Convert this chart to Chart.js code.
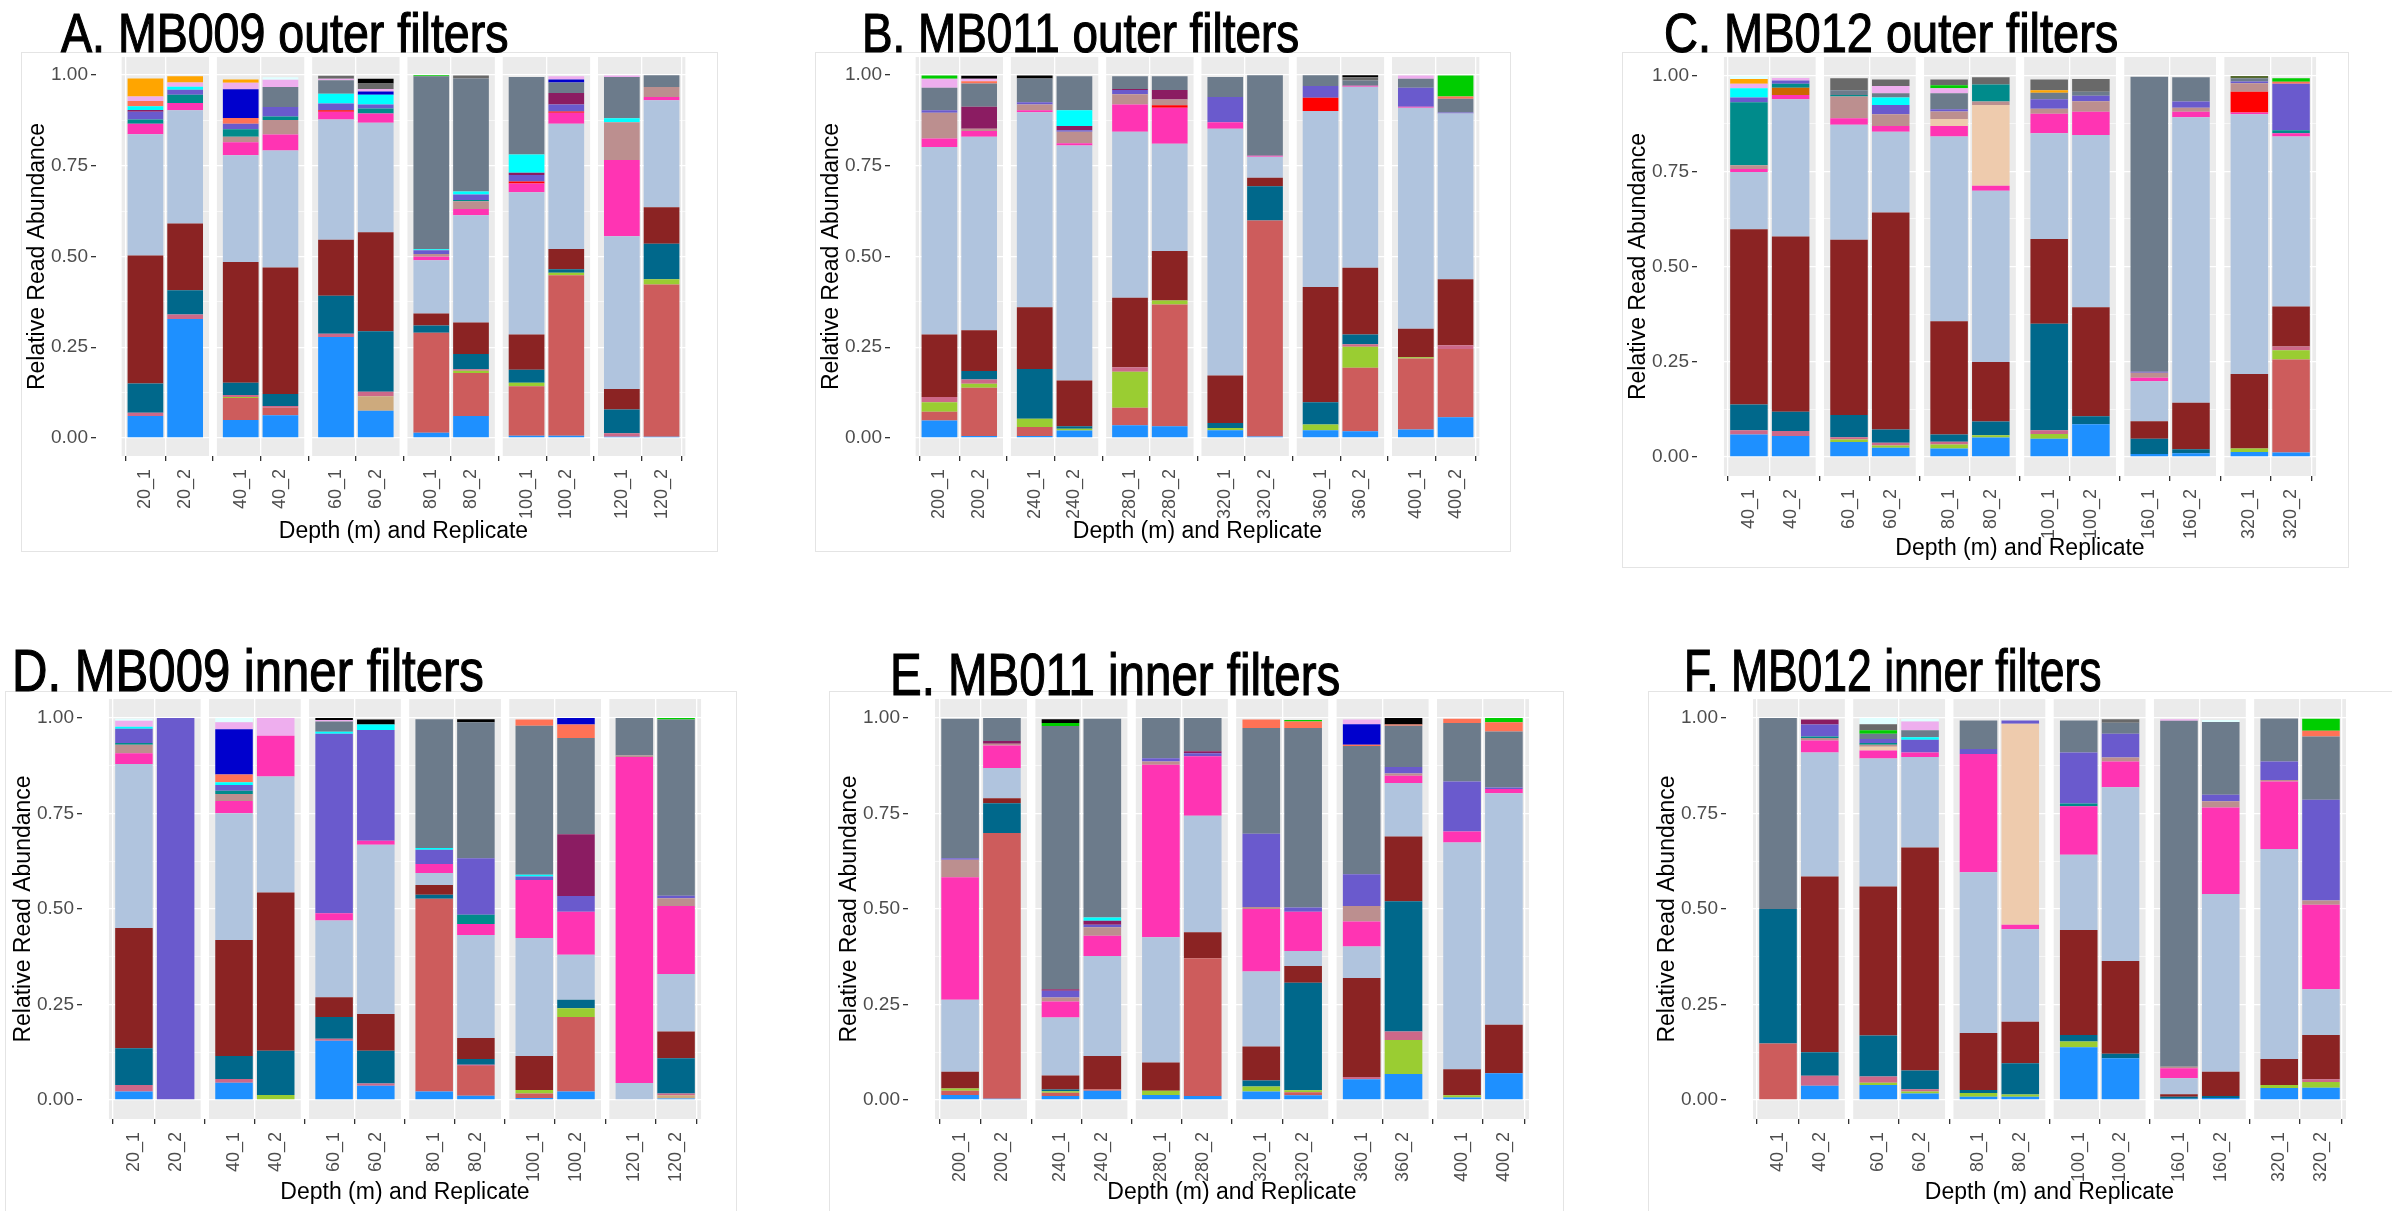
<!DOCTYPE html>
<html>
<head>
<title>Relative read abundance by depth</title>
<script src="https://cdn.jsdelivr.net/npm/chart.js"></script>
<style>
  body { margin: 0; width: 2392px; height: 1211px; background: #ffffff; position: relative; overflow: hidden; }
  canvas { position: absolute; }
  .box { position: absolute; border: 1px solid #e4e4e4; box-sizing: border-box; }
  .ptitle { position: absolute; font-family: "Liberation Sans", Arial, sans-serif;
            color: #000; white-space: nowrap; transform-origin: 0 0; -webkit-text-stroke: 1.2px #000; }
</style>
</head>
<body>
<script>
// x labels (depth_replicate) for each cruise
const repsMB009 = ["20_1","20_2","40_1","40_2","60_1","60_2","80_1","80_2","100_1","100_2","120_1","120_2"];
const repsMB011 = ["200_1","200_2","240_1","240_2","280_1","280_2","320_1","320_2","360_1","360_2","400_1","400_2"];
const repsMB012 = ["40_1","40_2","60_1","60_2","80_1","80_2","100_1","100_2","160_1","160_2","320_1","320_2"];

// relative abundance per bar, one entry per taxon (stacked bottom -> top by TAXA order)
const mb009Outer = [
  {blue:.06, pvred:.009, dteal:.081, dred:.353, lsb:.334, pink:.029, teal:.012, sblue:.021, maroon:.005, cyan:.01, coral:.015, plum:.012, orange:.05},
  {blue:.328, pvred:.012, dteal:.067, dred:.184, lsb:.312, pink:.02, teal:.023, sblue:.014, cyan:.008, plum:.012, orange:.017},
  {blue:.049, ired:.061, pvred:.005, dteal:.034, ygreen:.003, dred:.333, lsb:.294, pink:.036, teal:.021, rosy:.015, sblue:.015, coral:.016, mblue:.079, plum:.018, orange:.009},
  {blue:.062, ired:.021, pvred:.005, dteal:.033, dred:.349, lsb:.322, pink:.044, rosy:.04, teal:.01, sblue:.026, sgray:.055, plum:.02, azure:.007},
  {blue:.278, pvred:.009, dteal:.105, dred:.154, lsb:.332, pink:.021, red:.004, sblue:.019, cyan:.027, sgray:.037, plum:.004, dgray:.008},
  {blue:.075, tan:.04, pvred:.012, dteal:.167, dred:.273, lsb:.302, pink:.025, teal:.014, sblue:.011, cyan:.027, plum:.007, mblue:.009, black:.013, dgray:.015},
  {blue:.014, ired:.276, dteal:.02, dred:.033, lsb:.147, pink:.009, rosy:.008, sblue:.01, cyan:.003, sgray:.477, green:.003},
  {blue:.06, ired:.119, ygreen:.006, pvred:.004, dteal:.042, dred:.087, lsb:.296, pink:.017, rosy:.021, teal:.004, sblue:.015, cyan:.008, sgray:.312, dgray:.008},
  {blue:.006, ired:.136, ygreen:.01, dteal:.036, dred:.097, lsb:.392, pink:.024, red:.006, sblue:.018, maroon:.006, cyan:.05, sgray:.214},
  {blue:.006, ired:.442, ygreen:.007, dteal:.01, dred:.056, lsb:.345, pink:.03, red:.004, sblue:.019, maroon:.032, sgray:.029, plum:.009, mblue:.008},
  {blue:.003, pvred:.01, dteal:.065, dred:.057, lsb:.421, pink:.21, rosy:.104, cyan:.011, sgray:.114, plum:.004},
  {blue:.003, ired:.42, ygreen:.014, dteal:.098, dred:.101, lsb:.295, pink:.009, rosy:.027, sgray:.033}
];

const mb011Outer = [
  {blue:.048, ired:.024, ygreen:.026, pvred:.015, dred:.172, lsb:.517, pink:.023, rosy:.071, sblue:.007, sgray:.062, plum:.025, green:.009},
  {blue:.005, ired:.133, ygreen:.011, pvred:.012, dteal:.023, dred:.113, lsb:.533, pink:.016, rosy:.006, maroon:.061, sgray:.064, coral:.006, plum:.007, black:.008},
  {blue:.005, ired:.025, ygreen:.023, dteal:.137, dred:.17, lsb:.538, pink:.005, rosy:.016, sblue:.006, sgray:.066, black:.008},
  {blue:.02, ygreen:.005, dteal:.007, dred:.126, lsb:.648, pink:.006, rosy:.032, sblue:.004, maroon:.012, cyan:.043, sgray:.094},
  {blue:.035, ired:.048, ygreen:.099, pvred:.013, dred:.191, lsb:.458, pink:.075, rosy:.028, sblue:.012, maroon:.003, sgray:.035},
  {blue:.032, ired:.336, ygreen:.011, dred:.136, lsb:.296, pink:.099, red:.007, rosy:.016, maroon:.026, sgray:.038},
  {blue:.021, ygreen:.006, dteal:.014, dred:.131, lsb:.68, pink:.018, sblue:.07, sgray:.055},
  {blue:.004, ired:.595, dteal:.095, dred:.023, lsb:.058, pink:.003, sgray:.222},
  {blue:.021, ygreen:.016, dteal:.061, dred:.318, lsb:.485, red:.037, sblue:.032, sgray:.03},
  {blue:.018, ired:.175, ygreen:.058, pvred:.007, dteal:.027, dred:.184, lsb:.499, pink:.003, sgray:.014, dgray:.009, black:.006},
  {blue:.023, ired:.196, ygreen:.003, dred:.079, lsb:.609, pink:.003, sblue:.052, sgray:.025, plum:.009},
  {blue:.057, ired:.188, pvred:.01, dred:.182, lsb:.457, sblue:.003, sgray:.038, coral:.006, green:.058}
];

const mb012Outer = [
  {blue:.059, pvred:.011, dteal:.068, dred:.46, lsb:.15, pink:.008, rosy:.01, teal:.165, sblue:.013, cyan:.024, plum:.012, orange:.012, azure:.008},
  {blue:.055, pvred:.013, dteal:.051, dred:.46, lsb:.36, pink:.011, choc:.019, teal:.011, sblue:.008, plum:.007},
  {blue:.039, pvred:.006, dteal:.058, ygreen:.007, dred:.46, lsb:.302, pink:.017, rosy:.057, teal:.004, sgray:.013, dgray:.031},
  {blue:.024, ygreen:.006, pvred:.007, dteal:.035, dred:.57, lsb:.212, pink:.015, rosy:.031, sblue:.024, cyan:.02, sgray:.011, plum:.019, dgray:.017},
  {blue:.022, ygreen:.011, pvred:.007, dteal:.019, dred:.297, lsb:.485, pink:.028, rosy:.02, sblue:.006, sgray:.042, peach:.018, plum:.013, green:.008, dgray:.015},
  {blue:.051, ygreen:.006, dteal:.036, dred:.156, lsb:.45, pink:.013, peach:.212, rosy:.009, teal:.045, dgray:.019},
  {blue:.048, pvred:.01, ygreen:.012, dteal:.28, dred:.222, lsb:.278, pink:.051, rosy:.013, sblue:.025, orange:.007, sgray:.017, dgray:.028},
  {blue:.086, dteal:.021, dred:.286, lsb:.452, pink:.061, rosy:.028, sblue:.014, sgray:.011, dgray:.033},
  {blue:.008, dteal:.04, dred:.046, lsb:.105, pink:.009, rosy:.013, sblue:.003, sgray:.774},
  {blue:.01, dteal:.01, dred:.122, lsb:.75, pink:.014, rosy:.011, sblue:.016, sgray:.064},
  {blue:.013, ygreen:.009, dred:.196, lsb:.682, pink:.004, red:.055, rosy:.022, sblue:.005, sgray:.008, olive:.006},
  {blue:.012, ired:.244, ygreen:.024, pvred:.01, dred:.105, lsb:.446, pink:.009, sblue:.122, teal:.008, coral:.005, green:.009}
];

const mb009Inner = [
  {blue:.022, pvred:.017, dteal:.096, dred:.315, lsb:.43, pink:.028, rosy:.022, teal:.005, sblue:.037, cyan:.005, plum:.016, azure:.005},
  {sblue:1.0},
  {blue:.045, pvred:.01, dteal:.06, dred:.304, lsb:.332, pink:.032, rosy:.018, teal:.009, sblue:.015, cyan:.007, coral:.02, mblue:.119, plum:.018, azure:.011},
  {ygreen:.013, dteal:.116, dred:.414, lsb:.304, pink:.107, plum:.046},
  {blue:.155, pvred:.005, dteal:.057, dred:.052, lsb:.201, pink:.019, sblue:.47, cyan:.005, sgray:.027, plum:.004, black:.005},
  {blue:.037, pvred:.006, dteal:.086, dred:.096, lsb:.443, pink:.011, sblue:.29, cyan:.014, black:.013},
  {blue:.022, ired:.505, dteal:.01, dred:.026, lsb:.031, pink:.024, sblue:.037, cyan:.005, sgray:.337},
  {blue:.011, ired:.078, pvred:.003, dteal:.015, dred:.055, lsb:.27, pink:.029, teal:.024, sblue:.148, sgray:.356, black:.008},
  {blue:.005, ired:.012, ygreen:.009, dred:.089, lsb:.309, pink:.152, sblue:.009, cyan:.005, sgray:.39, coral:.016},
  {blue:.022, ired:.195, ygreen:.023, dteal:.022, lsb:.118, pink:.113, sblue:.041, maroon:.162, sgray:.252, coral:.035, mblue:.017},
  {lsb:.044, pink:.854, rosy:.004, sgray:.098},
  {blue:.004, tan:.008, pvred:.005, dteal:.092, dred:.07, lsb:.151, pink:.178, rosy:.02, sblue:.007, sgray:.461, green:.004}
];

const mb011Inner = [
  {blue:.013, ired:.011, ygreen:.006, dred:.044, lsb:.188, pink:.321, rosy:.046, sblue:.004, sgray:.365},
  {blue:.003, ired:.696, dteal:.078, dred:.013, lsb:.079, pink:.059, rosy:.005, maroon:.007, sgray:.06},
  {blue:.01, ired:.009, ygreen:.004, dteal:.004, dred:.037, lsb:.152, pink:.042, rosy:.01, sblue:.018, maroon:.004, sgray:.689, green:.008, black:.01},
  {blue:.024, ired:.004, dred:.087, lsb:.262, pink:.053, rosy:.022, sblue:.007, maroon:.01, cyan:.009, sgray:.52},
  {blue:.013, ygreen:.011, dred:.074, lsb:.328, pink:.452, rosy:.008, sblue:.009, sgray:.105},
  {blue:.01, ired:.361, dred:.068, lsb:.305, pink:.156, sblue:.008, maroon:.005, sgray:.087},
  {blue:.022, ygreen:.013, dteal:.016, dred:.089, lsb:.196, pink:.164, rosy:.005, sblue:.192, sgray:.277, coral:.022},
  {blue:.012, ired:.008, ygreen:.005, dteal:.282, dred:.044, lsb:.039, pink:.103, sblue:.011, sgray:.47, coral:.017, green:.004},
  {blue:.054, pvred:.006, dred:.259, lsb:.083, pink:.065, rosy:.041, sblue:.083, sgray:.336, coral:.003, mblue:.054, plum:.012},
  {blue:.068, ygreen:.089, pvred:.022, dteal:.341, dred:.17, lsb:.14, pink:.019, rosy:.006, sblue:.017, sgray:.108, coral:.003, black:.017},
  {blue:.006, ygreen:.006, dred:.068, lsb:.594, pink:.029, sblue:.131, sgray:.153, coral:.011},
  {blue:.07, dred:.127, lsb:.606, pink:.011, sblue:.004, sgray:.147, coral:.024, green:.011}
];

const mb012Inner = [
  {ired:.148, dteal:.352, sgray:.5},
  {blue:.037, pvred:.026, dteal:.062, dred:.46, lsb:.325, pink:.031, rosy:.007, teal:.004, sblue:.031, maroon:.013},
  {blue:.039, ygreen:.006, pvred:.016, dteal:.108, dred:.39, lsb:.335, pink:.021, peach:.01, rosy:.005, teal:.005, sblue:.01, sgray:.014, green:.009, dgray:.016, azure:.016},
  {blue:.017, ygreen:.005, pvred:.006, dteal:.049, dred:.584, lsb:.237, pink:.012, sblue:.033, cyan:.007, sgray:.018, plum:.023, azure:.007},
  {blue:.008, ygreen:.01, dteal:.008, dred:.149, lsb:.421, pink:.31, sblue:.013, sgray:.075},
  {blue:.008, ygreen:.006, dteal:.082, dred:.109, lsb:.242, pink:.012, peach:.526, sblue:.009},
  {blue:.138, ygreen:.015, dteal:.017, dred:.275, lsb:.197, pink:.127, teal:.007, sblue:.134, sgray:.084},
  {blue:.109, dteal:.012, dred:.243, lsb:.455, pink:.067, rosy:.011, sblue:.062, sgray:.029, dgray:.009},
  {blue:.003, dteal:.005, dred:.007, lsb:.042, pink:.026, rosy:.004, sgray:.906, plum:.004},
  {blue:.005, dteal:.005, dred:.064, lsb:.465, pink:.227, rosy:.016, sblue:.017, sgray:.191, azure:.005},
  {blue:.031, ygreen:.008, dred:.068, lsb:.55, pink:.177, rosy:.004, sblue:.048, sgray:.113},
  {blue:.032, pvred:.007, ygreen:.015, dred:.116, lsb:.12, pink:.221, rosy:.011, sblue:.264, sgray:.166, coral:.015, green:.031}
];

// taxa in stacking order (bottom first) with their fill colours
const TAXA = [
  ["blue", "#1E90FF"], ["tan", "#CDAA7D"], ["ired", "#CD5C5C"], ["ygreen", "#9ACD32"],
  ["pvred", "#CD6889"], ["dteal", "#00688B"], ["dred", "#8B2323"], ["lsb", "#B0C4DE"],
  ["pink", "#FF34B3"], ["red", "#FF0000"], ["choc", "#CD6600"], ["peach", "#EECBAD"],
  ["rosy", "#BC8F8F"], ["teal", "#008B8B"], ["sblue", "#6A5ACD"], ["maroon", "#8B1C62"],
  ["cyan", "#00FFFF"], ["sgray", "#6C7B8B"], ["coral", "#FF7256"], ["mblue", "#0000CD"],
  ["plum", "#EEAEEE"], ["orange", "#FFA500"], ["olive", "#556B2F"], ["green", "#00CD00"],
  ["dgray", "#696969"], ["black", "#000000"], ["azure", "#E0FFFF"]
];

// facets: 6 depths x 2 replicates, each facet 2.2 units wide, 0.2 gap
const FACET_W = 2.2, FACET_STEP = 2.4;
const X_POS = [];
for (let k = 0; k < 6; k++) X_POS.push(k * FACET_STEP + 0.6, k * FACET_STEP + 1.6);
const Y_TICKS = [0, .125, .25, .375, .5, .625, .75, .875, 1];
const isMajor = (v) => Math.abs(v * 4 - Math.round(v * 4)) < 1e-6;

Chart.defaults.font.family = "'Liberation Sans', Arial, sans-serif";
Chart.defaults.animation = false;

// grey facet strips behind the bars
const facetBg = {
  id: "facetBg",
  beforeDraw(chart) {
    const { ctx, chartArea, scales } = chart;
    ctx.save();
    ctx.fillStyle = "#EBEBEB";
    for (let k = 0; k < 6; k++) {
      const x0 = scales.x.getPixelForValue(k * FACET_STEP);
      const x1 = scales.x.getPixelForValue(k * FACET_STEP + FACET_W);
      ctx.fillRect(x0, chartArea.top, x1 - x0, chartArea.bottom - chartArea.top);
    }
    ctx.restore();
  }
};

// layout of each panel on the page (facet edges, axis title line, heading)
const panels = [
  { title: "A. MB009 outer filters", labels: repsMB009, bars: mb009Outer, fl: 96, fr: 711, ft: 57, fb: 456, xt: 531, tx: 61, tb: 52, tw: 447, fs: 56, box: [21, 52, 718, 552] },
  { title: "B. MB011 outer filters", labels: repsMB011, bars: mb011Outer, fl: 890, fr: 1505, ft: 57, fb: 456, xt: 531, tx: 862, tb: 52, tw: 437, fs: 56, box: [815, 52, 1511, 552] },
  { title: "C. MB012 outer filters", labels: repsMB012, bars: mb012Outer, fl: 1697, fr: 2343, ft: 57, fb: 476, xt: 548, tx: 1664, tb: 52, tw: 455, fs: 56, box: [1622, 52, 2349, 568] },
  { title: "D. MB009 inner filters", labels: repsMB009, bars: mb009Inner, fl: 82, fr: 728, ft: 699, fb: 1119, xt: 1192, tx: 12, tb: 692, tw: 472, fs: 60, box: [5, 691, 737, 1215] },
  { title: "E. MB011 inner filters", labels: repsMB011, bars: mb011Inner, fl: 908, fr: 1556, ft: 699, fb: 1119, xt: 1192, tx: 890, tb: 696, tw: 450, fs: 60, box: [829, 691, 1564, 1215] },
  { title: "F. MB012 inner filters", labels: repsMB012, bars: mb012Inner, fl: 1726, fr: 2373, ft: 699, fb: 1119, xt: 1192, tx: 1684, tb: 692, tw: 418, fs: 60, box: [1648, 691, 2400, 1215] }
];

function drawPanel(p) {
  const box = document.createElement("div");
  box.className = "box";
  box.style.left = p.box[0] + "px";
  box.style.top = p.box[1] + "px";
  box.style.width = (p.box[2] - p.box[0]) + "px";
  box.style.height = (p.box[3] - p.box[1]) + "px";
  document.body.appendChild(box);

  // heading: condensed to the width it has in the figure
  const head = document.createElement("div");
  head.className = "ptitle";
  head.textContent = p.title;
  head.style.fontSize = p.fs + "px";
  head.style.lineHeight = p.fs + "px";
  head.style.left = p.tx + "px";
  head.style.top = Math.round(p.tb - 0.8465 * p.fs) + "px";
  document.body.appendChild(head);
  head.style.transform = "scaleX(" + (p.tw / head.offsetWidth).toFixed(3) + ")";

  const left = p.fl - 80, top = p.ft - 20, right = p.fr + 20, bottom = p.xt + 14;
  const canvas = document.createElement("canvas");
  canvas.width = right - left;
  canvas.height = bottom - top;
  canvas.style.left = left + "px";
  canvas.style.top = top + "px";
  document.body.appendChild(canvas);
  const xAxisH = bottom - p.fb;

  const datasets = TAXA.filter(([key]) => p.bars.some((b) => b[key])).map(([key, color]) => ({
    label: key,
    backgroundColor: color,
    borderWidth: 0,
    barPercentage: 0.9,
    categoryPercentage: 1,
    data: p.bars.map((b, i) => ({ x: X_POS[i], y: b[key] || 0 }))
  }));

  new Chart(canvas, {
    type: "bar",
    data: { datasets },
    plugins: [facetBg],
    options: {
      responsive: false,
      layout: { padding: { top: 20, right: 20, bottom: 0, left: 0 } },
      plugins: { legend: { display: false }, tooltip: { enabled: false } },
      scales: {
        x: {
          type: "linear", min: 0, max: 5 * FACET_STEP + FACET_W, stacked: true,
          afterBuildTicks: (s) => { s.ticks = X_POS.map((v) => ({ value: v })); },
          afterFit: (s) => { s.height = xAxisH; },
          border: { display: false },
          grid: { color: "#ffffff", lineWidth: 1.3, tickColor: "#333333", tickLength: 5 },
          ticks: { color: "#4D4D4D", font: { size: 18 }, minRotation: 90, maxRotation: 90, autoSkip: false, padding: 8,
                   callback: (v, i) => p.labels[i] },
          title: { display: true, text: "Depth (m) and Replicate", color: "#000", font: { size: 23 }, padding: 0 }
        },
        y: {
          min: -0.05, max: 1.05, stacked: true,
          afterBuildTicks: (s) => { s.ticks = Y_TICKS.map((v) => ({ value: v })); },
          afterFit: (s) => { s.width = 80; },
          border: { display: false },
          grid: {
            color: "#ffffff",
            lineWidth: (c) => (c.tick && isMajor(c.tick.value) ? 1.3 : 0.6),
            tickColor: (c) => (c.tick && isMajor(c.tick.value) ? "#333333" : "rgba(0,0,0,0)"),
            tickLength: 5
          },
          ticks: { color: "#4D4D4D", font: { size: 19 }, padding: 3, autoSkip: false,
                   callback: (v) => (isMajor(v) ? v.toFixed(2) : "") },
          title: { display: true, text: "Relative Read Abundance", color: "#000", font: { size: 23 }, padding: { top: 8, bottom: 0 } }
        }
      }
    }
  });
}

panels.forEach(drawPanel);
</script>
</body>
</html>
